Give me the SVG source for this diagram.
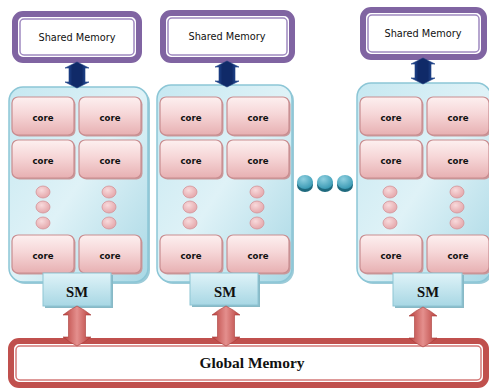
<svg xmlns="http://www.w3.org/2000/svg" width="489" height="389" viewBox="0 0 489 389">
  <defs>
    <linearGradient id="smFill" x1="0" y1="0" x2="1" y2="1">
      <stop offset="0" stop-color="#c6e8f1"/>
      <stop offset="0.5" stop-color="#dff2f7"/>
      <stop offset="1" stop-color="#a9d8e5"/>
    </linearGradient>
    <linearGradient id="tabFill" x1="0" y1="0" x2="0" y2="1">
      <stop offset="0" stop-color="#dff3f8"/>
      <stop offset="1" stop-color="#a8d7e4"/>
    </linearGradient>
    <linearGradient id="coreFill" x1="0" y1="0" x2="0" y2="1">
      <stop offset="0" stop-color="#fdf0f0"/>
      <stop offset="0.45" stop-color="#f6d6d7"/>
      <stop offset="1" stop-color="#e7b0b2"/>
    </linearGradient>
    <radialGradient id="dotFill" cx="0.4" cy="0.35" r="0.7">
      <stop offset="0" stop-color="#f8dadc"/>
      <stop offset="1" stop-color="#e3a4a8"/>
    </radialGradient>
    <radialGradient id="tealFill" cx="0.4" cy="0.3" r="0.7">
      <stop offset="0" stop-color="#8fd0e0"/>
      <stop offset="1" stop-color="#3a9ab4"/>
    </radialGradient>
    <linearGradient id="blueArrow" x1="0" y1="0" x2="1" y2="0">
      <stop offset="0" stop-color="#2f5dae"/>
      <stop offset="0.3" stop-color="#102a68"/>
      <stop offset="0.7" stop-color="#102a68"/>
      <stop offset="1" stop-color="#2f5dae"/>
    </linearGradient>
    <linearGradient id="redArrow" x1="0" y1="0" x2="1" y2="0">
      <stop offset="0" stop-color="#b8403d"/>
      <stop offset="0.5" stop-color="#e48f8d"/>
      <stop offset="1" stop-color="#b8403d"/>
    </linearGradient>
    <style>
      .shm-outer { fill: #ffffff; stroke: #8064a2; stroke-width: 6; }
      .shm-inner { fill: #ffffff; stroke: #9f89c0; stroke-width: 1.5; }
      .gm-outer { fill: #ffffff; stroke: #c0504d; stroke-width: 6; }
      .gm-inner { fill: #ffffff; stroke: #d47a78; stroke-width: 1.5; }
      .sm-body { fill: url(#smFill); stroke: #8cc6d6; stroke-width: 1.5; }
      .sm-shadow { fill: #9ccbd8; }
      .tab { fill: url(#tabFill); stroke: #8ec5d4; stroke-width: 1; }
      .tab-shadow { fill: #88b9c6; }
      .core { fill: url(#coreFill); stroke: #c98d90; stroke-width: 1.2; }
      .core-shadow { fill: #c99a9c; }
      .dot { fill: url(#dotFill); stroke: #d49398; stroke-width: 0.8; }
      .teal { fill: url(#tealFill); }
      .teal-shadow { fill: #1f6a7e; }
      .barrow { fill: url(#blueArrow); stroke: #1a3a7c; stroke-width: 0.6; }
      .rarrow { fill: url(#redArrow); stroke: #a83a37; stroke-width: 0.6; }
      .shm-text { font-family: "DejaVu Sans Condensed", "DejaVu Sans", sans-serif; font-size: 11px; fill: #111111; text-anchor: middle; }
      .core-text { font-family: "DejaVu Sans Condensed", "DejaVu Sans", sans-serif; font-size: 9px; font-weight: bold; fill: #111111; text-anchor: middle; }
      .sm-text { font-family: "Liberation Serif", serif; font-size: 14px; font-weight: bold; fill: #111111; text-anchor: middle; }
      .gm-text { font-family: "Liberation Serif", serif; font-size: 14px; font-weight: bold; fill: #111111; text-anchor: middle; }
    </style>
    <!-- one core tile, origin at its top-left -->
    <g id="coreTile">
      <rect class="core-shadow" x="1.5" y="1.5" width="62" height="38" rx="6"/>
      <rect class="core" x="0" y="0" width="62" height="38" rx="6"/>
    </g>
    <!-- double-headed arrows, centred on x=0, from y=0 down -->
    <path id="blueDouble" class="barrow" d="M0,0 L12,6 L8,6 L8,20 L12,20 L0,26 L-12,20 L-8,20 L-8,6 L-12,6 Z"/>
    <path id="redDouble" class="rarrow" d="M0,0 Q8,4 14,9 L8.5,9 L8.5,31 L14,31 Q8,36 0,40 Q-8,36 -14,31 L-8.5,31 L-8.5,9 L-14,9 Q-8,4 0,0 Z"/>
  </defs>

  <rect width="489" height="389" fill="#ffffff"/>

  <!-- shared memories -->
  <g id="shared-memory-1">
    <rect class="shm-outer" x="15" y="14" width="124" height="46" rx="8"/>
    <rect class="shm-inner" x="20" y="19" width="114" height="36" rx="4"/>
    <text class="shm-text" x="77" y="41" textLength="77" lengthAdjust="spacingAndGlyphs">Shared Memory</text>
  </g>
  <g id="shared-memory-2">
    <rect class="shm-outer" x="163" y="13" width="129" height="47" rx="8"/>
    <rect class="shm-inner" x="168" y="18" width="119" height="37" rx="4"/>
    <text class="shm-text" x="227" y="40" textLength="77" lengthAdjust="spacingAndGlyphs">Shared Memory</text>
  </g>
  <g id="shared-memory-3">
    <rect class="shm-outer" x="363" y="10" width="121" height="47" rx="8"/>
    <rect class="shm-inner" x="368" y="15" width="111" height="37" rx="4"/>
    <text class="shm-text" x="423" y="37" textLength="77" lengthAdjust="spacingAndGlyphs">Shared Memory</text>
  </g>

  <!-- streaming multiprocessor 1 -->
  <g id="sm-1">
    <rect class="sm-shadow" x="11" y="89" width="139" height="195" rx="14"/>
    <rect class="sm-body" x="9" y="87" width="139" height="195" rx="14"/>
    <use href="#coreTile" x="12" y="97"/>
    <use href="#coreTile" x="79" y="97"/>
    <use href="#coreTile" x="12" y="140"/>
    <use href="#coreTile" x="79" y="140"/>
    <use href="#coreTile" x="12" y="235"/>
    <use href="#coreTile" x="79" y="235"/>
    <text class="core-text" x="43" y="121" textLength="21" lengthAdjust="spacingAndGlyphs">core</text>
    <text class="core-text" x="110" y="121" textLength="21" lengthAdjust="spacingAndGlyphs">core</text>
    <text class="core-text" x="43" y="164" textLength="21" lengthAdjust="spacingAndGlyphs">core</text>
    <text class="core-text" x="110" y="164" textLength="21" lengthAdjust="spacingAndGlyphs">core</text>
    <text class="core-text" x="43" y="259" textLength="21" lengthAdjust="spacingAndGlyphs">core</text>
    <text class="core-text" x="110" y="259" textLength="21" lengthAdjust="spacingAndGlyphs">core</text>
    <ellipse class="dot" cx="43" cy="192" rx="7" ry="6"/>
    <ellipse class="dot" cx="43" cy="207" rx="7" ry="6"/>
    <ellipse class="dot" cx="43" cy="223" rx="7" ry="6"/>
    <ellipse class="dot" cx="109" cy="192" rx="7" ry="6"/>
    <ellipse class="dot" cx="109" cy="207" rx="7" ry="6"/>
    <ellipse class="dot" cx="109" cy="223" rx="7" ry="6"/>
    <rect class="tab-shadow" x="45" y="275" width="68" height="33"/>
    <rect class="tab" x="43" y="273" width="68" height="33"/>
    <text class="sm-text" x="77" y="297" textLength="22" lengthAdjust="spacingAndGlyphs">SM</text>
  </g>

  <!-- streaming multiprocessor 2 -->
  <g id="sm-2">
    <rect class="sm-shadow" x="159" y="87" width="135" height="197" rx="14"/>
    <rect class="sm-body" x="157" y="85" width="135" height="197" rx="14"/>
    <use href="#coreTile" x="160" y="97"/>
    <use href="#coreTile" x="227" y="97"/>
    <use href="#coreTile" x="160" y="140"/>
    <use href="#coreTile" x="227" y="140"/>
    <use href="#coreTile" x="160" y="235"/>
    <use href="#coreTile" x="227" y="235"/>
    <text class="core-text" x="191" y="121" textLength="21" lengthAdjust="spacingAndGlyphs">core</text>
    <text class="core-text" x="258" y="121" textLength="21" lengthAdjust="spacingAndGlyphs">core</text>
    <text class="core-text" x="191" y="164" textLength="21" lengthAdjust="spacingAndGlyphs">core</text>
    <text class="core-text" x="258" y="164" textLength="21" lengthAdjust="spacingAndGlyphs">core</text>
    <text class="core-text" x="191" y="259" textLength="21" lengthAdjust="spacingAndGlyphs">core</text>
    <text class="core-text" x="258" y="259" textLength="21" lengthAdjust="spacingAndGlyphs">core</text>
    <ellipse class="dot" cx="190" cy="192" rx="7" ry="6"/>
    <ellipse class="dot" cx="190" cy="207" rx="7" ry="6"/>
    <ellipse class="dot" cx="190" cy="223" rx="7" ry="6"/>
    <ellipse class="dot" cx="257" cy="192" rx="7" ry="6"/>
    <ellipse class="dot" cx="257" cy="207" rx="7" ry="6"/>
    <ellipse class="dot" cx="257" cy="223" rx="7" ry="6"/>
    <rect class="tab-shadow" x="192" y="275" width="68" height="32"/>
    <rect class="tab" x="190" y="273" width="68" height="32"/>
    <text class="sm-text" x="225" y="297" textLength="22" lengthAdjust="spacingAndGlyphs">SM</text>
  </g>

  <!-- streaming multiprocessor 3 (last one) -->
  <g id="sm-3">
    <rect class="sm-shadow" x="359" y="85" width="134" height="199" rx="14"/>
    <rect class="sm-body" x="357" y="83" width="134" height="199" rx="14"/>
    <use href="#coreTile" x="360" y="97"/>
    <use href="#coreTile" x="427" y="97"/>
    <use href="#coreTile" x="360" y="140"/>
    <use href="#coreTile" x="427" y="140"/>
    <use href="#coreTile" x="360" y="235"/>
    <use href="#coreTile" x="427" y="235"/>
    <text class="core-text" x="391" y="121" textLength="21" lengthAdjust="spacingAndGlyphs">core</text>
    <text class="core-text" x="458" y="121" textLength="21" lengthAdjust="spacingAndGlyphs">core</text>
    <text class="core-text" x="391" y="164" textLength="21" lengthAdjust="spacingAndGlyphs">core</text>
    <text class="core-text" x="458" y="164" textLength="21" lengthAdjust="spacingAndGlyphs">core</text>
    <text class="core-text" x="391" y="259" textLength="21" lengthAdjust="spacingAndGlyphs">core</text>
    <text class="core-text" x="458" y="259" textLength="21" lengthAdjust="spacingAndGlyphs">core</text>
    <ellipse class="dot" cx="390" cy="192" rx="7" ry="6"/>
    <ellipse class="dot" cx="390" cy="207" rx="7" ry="6"/>
    <ellipse class="dot" cx="390" cy="223" rx="7" ry="6"/>
    <ellipse class="dot" cx="457" cy="192" rx="7" ry="6"/>
    <ellipse class="dot" cx="457" cy="207" rx="7" ry="6"/>
    <ellipse class="dot" cx="457" cy="223" rx="7" ry="6"/>
    <rect class="tab-shadow" x="395" y="275" width="69" height="33"/>
    <rect class="tab" x="393" y="273" width="69" height="33"/>
    <text class="sm-text" x="428" y="297" textLength="22" lengthAdjust="spacingAndGlyphs">SM</text>
  </g>

  <!-- ellipsis between multiprocessors -->
  <g id="ellipsis">
    <ellipse class="teal-shadow" cx="305" cy="185" rx="8" ry="7"/>
    <ellipse class="teal" cx="305" cy="182" rx="8" ry="7"/>
    <ellipse class="teal-shadow" cx="325" cy="185" rx="8" ry="7"/>
    <ellipse class="teal" cx="325" cy="182" rx="8" ry="7"/>
    <ellipse class="teal-shadow" cx="345" cy="185" rx="8" ry="7"/>
    <ellipse class="teal" cx="345" cy="182" rx="8" ry="7"/>
  </g>

  <!-- global memory -->
  <g id="global-memory">
    <rect class="gm-outer" x="11" y="341" width="475" height="44" rx="8"/>
    <rect class="gm-inner" x="16" y="346" width="465" height="34" rx="4"/>
    <text class="gm-text" x="252" y="368" textLength="105" lengthAdjust="spacingAndGlyphs">Global Memory</text>
  </g>

  <!-- connectors: shared memory <-> SM (blue), SM <-> global memory (red) -->
  <g id="connectors">
    <use href="#blueDouble" x="77" y="62"/>
    <use href="#blueDouble" x="227" y="61"/>
    <use href="#blueDouble" x="423" y="58"/>
    <use href="#redDouble" x="77" y="306"/>
    <use href="#redDouble" x="226" y="306"/>
    <use href="#redDouble" x="423" y="307"/>
  </g>
</svg>
